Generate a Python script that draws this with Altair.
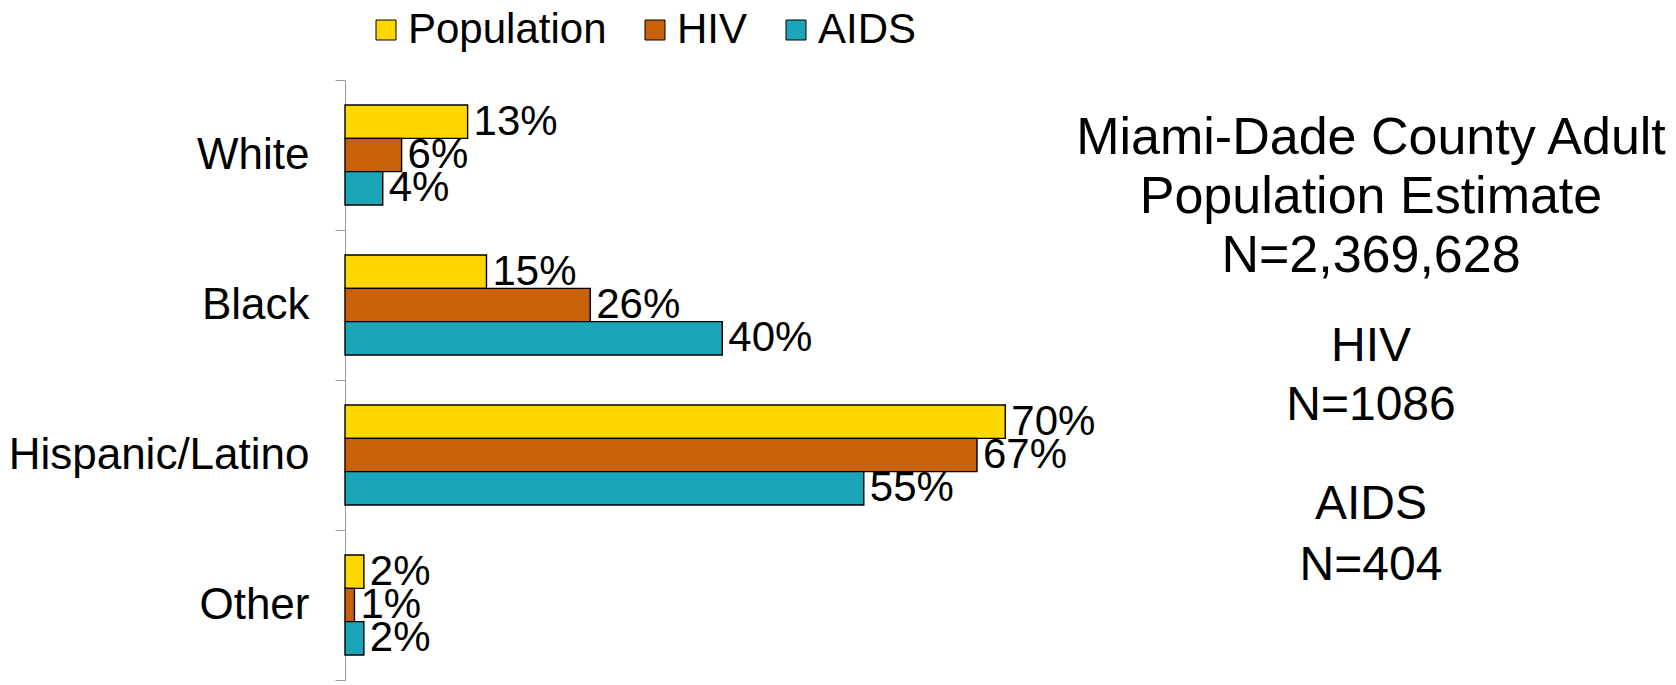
import altair as alt
import pandas as pd

# Share of each group, in percent
groups = ["White", "Black", "Hispanic/Latino", "Other"]
series = ["Population", "HIV", "AIDS"]
population = [13, 15, 70, 2]
hiv = [6, 26, 67, 1]
aids = [4, 40, 55, 2]
colors = ["#FFD700", "#C9600A", "#1CA5B8"]

# Side notes with the sample sizes
note_population = "Miami-Dade County Adult\nPopulation Estimate\nN=2,369,628"
note_hiv = "HIV\nN=1086"
note_aids = "AIDS\nN=404"

rows = []
for name, values in zip(series, [population, hiv, aids]):
    for g, v in zip(groups, values):
        rows.append({"group": g, "series": name, "pct": v})
df = pd.DataFrame(rows)

FONT = "Liberation Sans"

x = alt.X("pct:Q", scale=alt.Scale(domain=[0, 141], nice=False), axis=None)
y = alt.Y(
    "group:N",
    sort=groups,
    title=None,
    scale=alt.Scale(paddingInner=0, paddingOuter=0),
    axis=alt.Axis(
        labelFont=FONT,
        labelFontSize=44,
        labelColor="black",
        labelLimit=0,
        labelPadding=26,
        tickBand="extent",
        tickSize=10,
        tickColor="#9a9a9a",
        domainColor="#9a9a9a",
        grid=False,
    ),
)
y_offset = alt.YOffset(
    "series:N", sort=series, scale=alt.Scale(paddingInner=0, paddingOuter=0.75)
)
color = alt.Color(
    "series:N",
    sort=series,
    scale=alt.Scale(domain=series, range=colors),
    legend=alt.Legend(
        title=None,
        orient="none",
        direction="horizontal",
        legendX=20,
        legendY=-71,
        labelFont=FONT,
        labelFontSize=42,
        labelColor="black",
        labelLimit=0,
        labelOffset=1,
        symbolType="square",
        symbolSize=400,
        symbolStrokeColor="black",
        symbolStrokeWidth=1,
        symbolOpacity=1,
        columnPadding=27,
        padding=0,
    ),
)

bars = (
    alt.Chart(df)
    .mark_bar(stroke="black", strokeWidth=1.4)
    .encode(x=x, y=y, yOffset=y_offset, color=color)
)

labels = (
    alt.Chart(df)
    .transform_calculate(label="datum.pct + '%'")
    .mark_text(align="left", baseline="middle", dx=6, font=FONT, fontSize=42, color="black")
    .encode(x=x, y=y, yOffset=y_offset, text="label:N")
)


def note(text, cx, cy, size, line_height):
    # cy is the centre of the first line; further lines run downward
    return (
        alt.Chart(pd.DataFrame({"t": [text]}))
        .mark_text(
            align="center",
            baseline="middle",
            font=FONT,
            fontSize=size,
            lineHeight=line_height,
            lineBreak="\n",
            color="black",
        )
        .encode(x=alt.value(cx), y=alt.value(cy), text="t:N")
    )


chart = (
    alt.layer(
        bars,
        labels,
        note(note_population, 1026, 58, 52, 59),
        note(note_hiv, 1026, 267, 48, 59),
        note(note_aids, 1026, 425, 48, 61),
    )
    .properties(
        width=1330,
        height=600,
        autosize=alt.AutoSizeParams(type="none"),
        padding={"left": 345, "top": 80, "right": 1, "bottom": 5},
        background="white",
    )
    .configure_view(stroke=None)
)

chart.save("out.html", embed_options={"renderer": "svg", "actions": False})
